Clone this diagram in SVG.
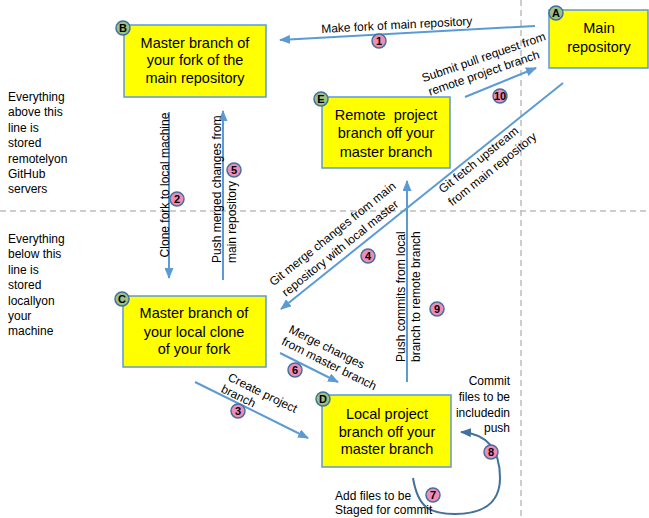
<svg xmlns="http://www.w3.org/2000/svg" width="649" height="518" viewBox="0 0 649 518">
<defs>
<marker id="ah" markerWidth="11" markerHeight="9" refX="10" refY="4.5" orient="auto" markerUnits="userSpaceOnUse"><path d="M0,0 L11,4.5 L0,9 Z" fill="#5B9BD5"/></marker>
<marker id="ah2" markerWidth="11" markerHeight="9" refX="10" refY="4.5" orient="auto" markerUnits="userSpaceOnUse"><path d="M0,0 L11,4.5 L0,9 Z" fill="#41719C"/></marker>
</defs>
<style>
.box{fill:#FFFF00;stroke:#5B9BD5;stroke-width:1.5}
.bt{font-family:'Liberation Sans',Arial,sans-serif;font-size:14.5px;fill:#000;text-anchor:middle}
.lbl{font-family:'Liberation Sans',Arial,sans-serif;font-size:12px;fill:#000}
.c{text-anchor:middle}
.r{text-anchor:end}
.ln{stroke:#5B9BD5;stroke-width:2;fill:none}
.loop{stroke:#41719C;stroke-width:2;fill:none}
.dash{stroke:#BFBFBF;stroke-width:1.5;stroke-dasharray:6 4;fill:none}
.bg{fill:#9DC183;stroke:#41719C;stroke-width:1.5}
.bp{fill:#F08CB8;stroke:#41719C;stroke-width:1.5}
.bn{font-family:'Liberation Sans',Arial,sans-serif;font-size:11px;font-weight:bold;text-anchor:middle;fill:#000}
</style>
<rect width="649" height="518" fill="#FFFFFF"/>
<g id="dividers">
<line class="dash" x1="0" y1="211" x2="649" y2="211"/>
<line class="dash" x1="521" y1="0" x2="521" y2="518"/>
</g>
<g id="side-notes">
<text class="lbl" x="8" y="101">Everything</text>
<text class="lbl" x="8" y="116.4">above this</text>
<text class="lbl" x="8" y="131.8">line is</text>
<text class="lbl" x="8" y="147.2">stored</text>
<text class="lbl" x="8" y="162.6">remotelyon</text>
<text class="lbl" x="8" y="178">GitHub</text>
<text class="lbl" x="8" y="193.4">servers</text>
<text class="lbl" x="8" y="243">Everything</text>
<text class="lbl" x="8" y="258.4">below this</text>
<text class="lbl" x="8" y="273.8">line is</text>
<text class="lbl" x="8" y="289.2">stored</text>
<text class="lbl" x="8" y="304.6">locallyon</text>
<text class="lbl" x="8" y="320">your</text>
<text class="lbl" x="8" y="335.4">machine</text>
</g>
<g id="connectors">
<line class="ln" x1="535" y1="26" x2="280" y2="40" marker-end="url(#ah)"/>
<line class="ln" x1="169" y1="112" x2="169" y2="278" marker-end="url(#ah)"/>
<line class="ln" x1="223" y1="280" x2="223" y2="111" marker-end="url(#ah)"/>
<line class="ln" x1="563" y1="83" x2="281" y2="309" marker-end="url(#ah)"/>
<line class="ln" x1="195" y1="382" x2="308" y2="438" marker-end="url(#ah)"/>
<line class="ln" x1="280" y1="353" x2="338" y2="382" marker-end="url(#ah)"/>
<line class="ln" x1="407" y1="382" x2="407" y2="181" marker-end="url(#ah)"/>
<line class="ln" x1="465" y1="97" x2="536" y2="68" marker-end="url(#ah)"/>
<path class="loop" d="M413,478 C418,508 430,514 455,514 C480,514 500,505 500,478 C500,452 490,434 461,432" marker-end="url(#ah2)"/>
<text class="lbl c" x="397" y="29" transform="rotate(-3 397 29)">Make fork of main repository</text>
<g transform="translate(485,61) rotate(-19)">
<text class="lbl c" x="0" y="0">Submit pull request from</text>
<text class="lbl c" x="-5" y="15">remote project branch</text>
</g>
<text class="lbl c" transform="translate(168.5,185) rotate(-90)">Clone fork to local machine</text>
<g transform="translate(220.5,263) rotate(-90)">
<text class="lbl" x="0" y="0">Push merged changes from</text>
<text class="lbl" x="0" y="15">main repository</text>
</g>
<g transform="translate(404.5,362) rotate(-90)">
<text class="lbl" x="0" y="0">Push commits from local</text>
<text class="lbl" x="0" y="15">branch to remote branch</text>
</g>
<g transform="translate(335,237) rotate(-38.8)">
<text class="lbl c" x="0" y="0">Git merge changes from main</text>
<text class="lbl c" x="-3" y="16">repository with local master</text>
</g>
<g transform="translate(481,163) rotate(-38.8)">
<text class="lbl c" x="0" y="0">Git fetch upstream</text>
<text class="lbl c" x="5" y="16">from main repository</text>
</g>
<g transform="translate(227,380) rotate(26)">
<text class="lbl" x="0" y="0">Create project</text>
<text class="lbl" x="-1" y="13.5">branch</text>
</g>
<g transform="translate(288,332) rotate(26.5)">
<text class="lbl" x="0" y="0">Merge changes</text>
<text class="lbl" x="-1" y="14">from master branch</text>
</g>
<text class="lbl r" x="510" y="385">Commit</text>
<text class="lbl r" x="510" y="401">files to be</text>
<text class="lbl r" x="510" y="417">includedin</text>
<text class="lbl r" x="510" y="432">push</text>
<text class="lbl" x="335" y="500">Add files to be</text>
<text class="lbl" x="335" y="514">Staged for commit</text>
<circle class="bp" cx="379" cy="41" r="7"/><text class="bn" x="379" y="45">1</text>
<circle class="bp" cx="177" cy="199" r="7"/><text class="bn" x="177" y="203">2</text>
<circle class="bp" cx="238" cy="411" r="7"/><text class="bn" x="238" y="415">3</text>
<circle class="bp" cx="368" cy="256" r="7"/><text class="bn" x="368" y="260">4</text>
<circle class="bp" cx="234" cy="170" r="7"/><text class="bn" x="234" y="174">5</text>
<circle class="bp" cx="295" cy="370" r="7"/><text class="bn" x="295" y="374">6</text>
<circle class="bp" cx="433" cy="495" r="7"/><text class="bn" x="433" y="499">7</text>
<circle class="bp" cx="491" cy="452" r="7"/><text class="bn" x="491" y="456">8</text>
<circle class="bp" cx="437" cy="309" r="7"/><text class="bn" x="437" y="313">9</text>
<circle class="bp" cx="500" cy="96" r="7"/><text class="bn" x="500" y="100">10</text>
</g>
<g id="node-A">
<rect class="box" x="549" y="10" width="99" height="58"/>
<text class="bt" x="599" y="33">Main</text>
<text class="bt" x="599" y="51.5">repository</text>
<circle class="bg" cx="556" cy="13" r="7"/><text class="bn" x="556" y="17">A</text>
</g>
<g id="node-B">
<rect class="box" x="124" y="25" width="142" height="72"/>
<text class="bt" x="195" y="47.5">Master branch of</text>
<text class="bt" x="195" y="65">your fork of the</text>
<text class="bt" x="195" y="82.5">main repository</text>
<circle class="bg" cx="123" cy="28" r="7"/><text class="bn" x="123" y="32">B</text>
</g>
<g id="node-C">
<rect class="box" x="123" y="296" width="143" height="71"/>
<text class="bt" x="194" y="317.5">Master branch of</text>
<text class="bt" x="194" y="337">your local clone</text>
<text class="bt" x="194" y="354">of your fork</text>
<circle class="bg" cx="122" cy="299" r="7"/><text class="bn" x="122" y="303">C</text>
</g>
<g id="node-D">
<rect class="box" x="322" y="395" width="129" height="72"/>
<text class="bt" x="387" y="418.5">Local project</text>
<text class="bt" x="387" y="436.5">branch off your</text>
<text class="bt" x="387" y="454">master branch</text>
<circle class="bg" cx="323" cy="399" r="7"/><text class="bn" x="323" y="403">D</text>
</g>
<g id="node-E">
<rect class="box" x="322" y="97" width="128" height="71"/>
<text class="bt" x="386" y="119.5" style="white-space:pre">Remote  project</text>
<text class="bt" x="386" y="137.5">branch off your</text>
<text class="bt" x="386" y="156.5">master branch</text>
<circle class="bg" cx="321" cy="99" r="7"/><text class="bn" x="321" y="103">E</text>
</g>
</svg>
